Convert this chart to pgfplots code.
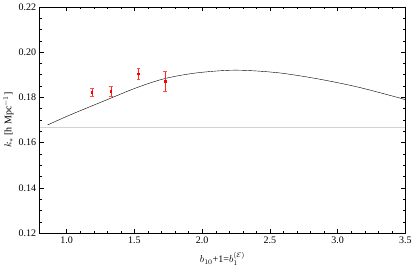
\documentclass[border=0pt]{standalone}
\usepackage{pgfplots}
\pgfplotsset{compat=1.18}
\usepackage{fontspec}
\setmainfont{Liberation Serif}
\begin{document}
\begin{tikzpicture}
\begin{axis}[
  scale only axis, width=365pt, height=226pt,
  xmin=0.8, xmax=3.5, ymin=0.12, ymax=0.22,
  xtick={1.0,1.5,2.0,2.5,3.0,3.5},
  ytick={0.12,0.14,0.16,0.18,0.20,0.22},
  minor x tick num=4, minor y tick num=3,
  xticklabel style={/pgf/number format/.cd,fixed,fixed zerofill,precision=1},
  yticklabel style={/pgf/number format/.cd,fixed,fixed zerofill,precision=2},
  /pgf/number format/assume math mode=true,
  tick align=inside, major tick length=4pt, minor tick length=2pt,
  tick style={black, thin},
  axis line style={black, thin},
  font=\fontsize{10}{12}\selectfont,
  xlabel={$b_{10}$+1=$b_1^{(\mathcal{E})}$},
  ylabel={$k_*$ [h Mpc$^{-1}$]},
  ylabel style={yshift=-2pt},
  xlabel style={yshift=-2pt},
]
\addplot[gray!35, line width=0.8pt] coordinates {(0.8,0.1666) (3.5,0.1666)};
\addplot[black, thin, smooth] coordinates {
 (0.859,0.1678) (1.024,0.1722) (1.271,0.1783) (1.518,0.1843)
 (1.725,0.1883) (1.96,0.1908) (2.243,0.1920) (2.553,0.1909)
 (2.85,0.1882) (3.145,0.1846) (3.44,0.1800) (3.5,0.1789)};
\addplot[red, only marks, mark=square*, mark size=0.9pt,
  error bars/.cd, y dir=both, y explicit,
  error bar style={red!85, thin}, error mark options={red!70, mark size=1.8pt, rotate=90}]
  coordinates {
  (1.185,0.1824) +- (0,0.0018)
  (1.325,0.1827) +- (0,0.0021)
  (1.53,0.1904) +- (0,0.0026)
  (1.725,0.1873) +- (0,0.0044)
};
\end{axis}
\end{tikzpicture}
\end{document}
